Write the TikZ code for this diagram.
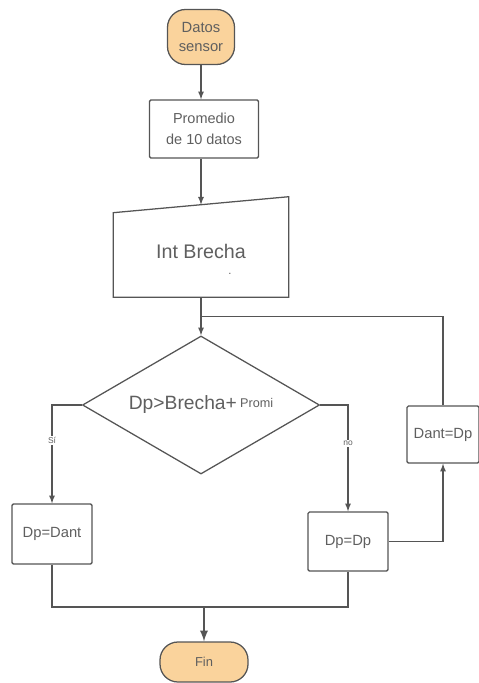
\documentclass[tikz,border=0pt]{standalone}
\usepackage{fontspec}
\setmainfont{Liberation Sans}
\usetikzlibrary{shapes.geometric,calc}
\definecolor{lineg}{HTML}{555555}
\definecolor{txtg}{HTML}{5F5F5F}
\definecolor{termfill}{HTML}{FAD39C}

\begin{document}
\begin{tikzpicture}[x=0.025cm,y=-0.025cm,
    every node/.style={text=txtg},
    term/.style={draw=lineg,line width=0.9pt,fill=termfill,rounded corners=0.45cm,align=center},
    proc/.style={draw=lineg,line width=0.9pt,rounded corners=1pt,align=center},
    cond/.style={diamond,aspect=1.72,draw=lineg,line width=0.9pt,inner sep=0pt},
    link/.style={draw=lineg,line width=0.9pt},
    lbl/.style={fill=white,inner sep=1pt,font=\fontsize{6}{7}\selectfont}]
			%%%%% START %%%%%
			
			\useasboundingbox (0,0) rectangle (479,683);
			
			\node[term,minimum width=1.675cm,minimum height=1.375cm,font=\fontsize{10.5}{14}\selectfont] (start) at (201,37) {Datos\\sensor};
			\node[proc,minimum width=2.725cm,minimum height=1.45cm,font=\fontsize{10.3}{15}\selectfont] (prom) at (204,129) {Promedio\\de 10 datos};
			
			% manual input
			\node[minimum width=4.375cm,minimum height=2.5cm,inner sep=0pt,text height=15.8pt,text depth=0pt,font=\fontsize{14}{16}\selectfont] (brecha) at (201,247) {Int Brecha};
			\draw[link] (brecha.south west) -- ($(brecha.north west)+(0,16)$) -- (brecha.north east) -- (brecha.south east) -- cycle;
			\coordinate (brechatop) at ($(brecha.north)+(0,8)$);
			\node[font=\fontsize{8}{8}\selectfont] (brechadot) at (230,274) {.};
			
			\node[cond,minimum width=5.925cm,minimum height=3.45cm] (dec) at (201,405) {\fontsize{13.7}{16}\selectfont Dp>Brecha+\,\raisebox{2pt}{\fontsize{9}{10}\selectfont Promi}};
			\coordinate (jn) at ($(brecha.south)!0.5!(dec.north)$);
			
			\node[proc,minimum width=2cm,minimum height=1.5cm,font=\fontsize{10.5}{12}\selectfont] (dpdant) at (52,534) {Dp=Dant};
			\node[proc,minimum width=2cm,minimum height=1.475cm,font=\fontsize{10.5}{12}\selectfont] (dpdp) at (348,541.5) {Dp=Dp};
			\node[proc,minimum width=1.8cm,minimum height=1.425cm,font=\fontsize{10.5}{12}\selectfont] (dantdp) at (443,434.5) {Dant=Dp};
			
			\node[term,minimum width=2.2cm,minimum height=1cm,font=\fontsize{9.2}{11}\selectfont] (fin) at (204,662) {Fin};
			
			% connectors
			\draw[link,-latex] (start.south) -- (start.south |- prom.north);
			\draw[link,-latex] (prom.south -| start.south) -- (brechatop);
			\draw[link,-latex] (brecha.south) -- (dec.north);
			\draw[link,-latex] (dec.west) -| node[lbl,pos=0.68] {Sí} (dpdant.north);
			\draw[link,-latex] (dec.east) -| node[lbl,pos=0.68] {no} (dpdp.north);
			\draw[link,-latex] (dpdp.east) -| (dantdp.south);
			\draw[link] (dantdp.north) |- (jn);
			
			\coordinate (mg) at (204,607);
			\draw[link] (dpdant.south) |- (mg) -| (dpdp.south);
			\draw[link,line width=1.6pt,-latex] (mg) -- (fin.north);
			
			%%%%% END %%%%%
\end{tikzpicture}
\end{document}
